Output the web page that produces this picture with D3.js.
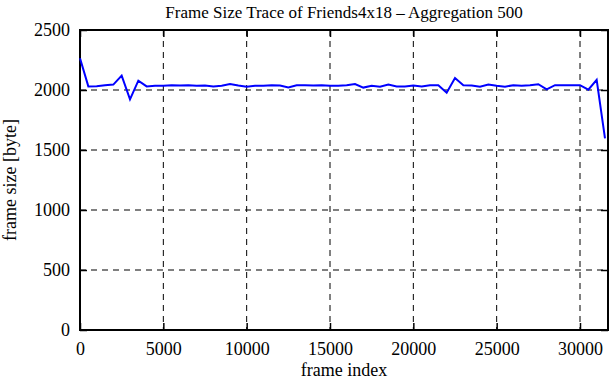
<!DOCTYPE html>
<html>
<head>
<meta charset="utf-8">
<script src="https://cdn.jsdelivr.net/npm/d3@7"></script>
<style>
  body { margin: 0; background: #fff; }
  svg text { font-family: "Liberation Serif", "DejaVu Serif", serif; fill: #000; }
</style>
</head>
<body>
<div id="chart"></div>
<script>
// frame index of each aggregated point (every 500 frames)
const frameIndex = d3.range(0, 32000, 500)
// mean frame size per block of 500 frames
const frameSize = [
    2265, 2030, 2032, 2040, 2045, 2120, 1922, 2078, 2030, 2035,
    2035, 2040, 2038, 2040, 2035, 2038, 2030, 2035, 2050, 2038,
    2028, 2035, 2035, 2040, 2038, 2022, 2040, 2040, 2038, 2040,
    2035, 2035, 2040, 2050, 2020, 2035, 2028, 2045, 2030, 2030,
    2038, 2030, 2040, 2040, 1977, 2100, 2040, 2038, 2028, 2045,
    2035, 2028, 2040, 2035, 2040, 2048, 2005, 2040, 2040, 2040,
    2040, 2003, 2085, 1597
]
const xTicks = [0, 5000, 10000, 15000, 20000, 25000, 30000]
const yTicks = [0, 500, 1000, 1500, 2000, 2500]

const width = 611, height = 380
const margin = {top: 30, right: 3, bottom: 50, left: 80}
const iw = width - margin.left - margin.right
const ih = height - margin.top - margin.bottom

const data = frameIndex.map((f, i) => ({x: f, y: frameSize[i]}))

const svg = d3.select("#chart").append("svg")
    .attr("width", width)
    .attr("height", height)

const g = svg.append("g")
    .attr("transform", `translate(${margin.left},${margin.top})`)

const x = d3.scaleLinear().domain([0, 31680]).range([0, iw])
const y = d3.scaleLinear().domain([0, 2500]).range([ih, 0])

// dashed grid
g.append("g")
    .selectAll("line")
    .data(xTicks.slice(1))
    .join("line")
    .attr("x1", d => x(d)).attr("x2", d => x(d))
    .attr("y1", 0).attr("y2", ih)
    .attr("stroke", "#000")
    .attr("stroke-width", 1)
    .attr("stroke-dasharray", "6,5")

g.append("g")
    .selectAll("line")
    .data(yTicks.slice(1, -1))
    .join("line")
    .attr("x1", 0).attr("x2", iw)
    .attr("y1", d => y(d)).attr("y2", d => y(d))
    .attr("stroke", "#000")
    .attr("stroke-width", 1)
    .attr("stroke-dasharray", "6,5")

// axes with inward ticks
const tick = 7
const fmt = d3.format("d")
const xAxis = g.append("g")
    .attr("transform", `translate(0,${ih})`)
    .call(d3.axisBottom(x).tickValues(xTicks).tickFormat(fmt).tickSizeInner(-tick).tickSizeOuter(0).tickPadding(12))
const xAxisTop = g.append("g")
    .call(d3.axisTop(x).tickValues(xTicks).tickSizeInner(-tick).tickSizeOuter(0).tickFormat(""))
const yAxis = g.append("g")
    .call(d3.axisLeft(y).tickValues(yTicks).tickFormat(fmt).tickSizeInner(-tick).tickSizeOuter(0).tickPadding(10))
const yAxisRight = g.append("g")
    .attr("transform", `translate(${iw},0)`)
    .call(d3.axisRight(y).tickValues(yTicks).tickSizeInner(-tick).tickSizeOuter(0).tickFormat(""))

;[xAxis, xAxisTop, yAxis, yAxisRight].forEach(a => {
    a.attr("font-family", null).attr("font-size", null)
    a.select(".domain").remove()
    a.selectAll("line").attr("stroke", "#000").attr("stroke-width", 1.5)
    a.selectAll("text")
        .style("font-family", "'Liberation Serif', serif")
        .style("font-size", "18px")
})

// frame border
g.append("rect")
    .attr("width", iw).attr("height", ih)
    .attr("fill", "none")
    .attr("stroke", "#000")
    .attr("stroke-width", 2)

// trace
const line = d3.line().x(d => x(d.x)).y(d => y(d.y))
g.append("path")
    .datum(data)
    .attr("fill", "none")
    .attr("stroke", "#0000ff")
    .attr("stroke-width", 2)
    .attr("d", line)

// labels
svg.append("text")
    .attr("x", margin.left + iw / 2).attr("y", 18)
    .attr("text-anchor", "middle")
    .style("font-size", "17px")
    .text("Frame Size Trace of Friends4x18 \u2013 Aggregation 500")

svg.append("text")
    .attr("x", margin.left + iw / 2).attr("y", 376)
    .attr("text-anchor", "middle")
    .style("font-size", "18px")
    .text("frame index")

svg.append("text")
    .attr("transform", `translate(16,${margin.top + ih / 2}) rotate(-90)`)
    .attr("text-anchor", "middle")
    .style("font-size", "18px")
    .text("frame size [byte]")
</script>
</body>
</html>
